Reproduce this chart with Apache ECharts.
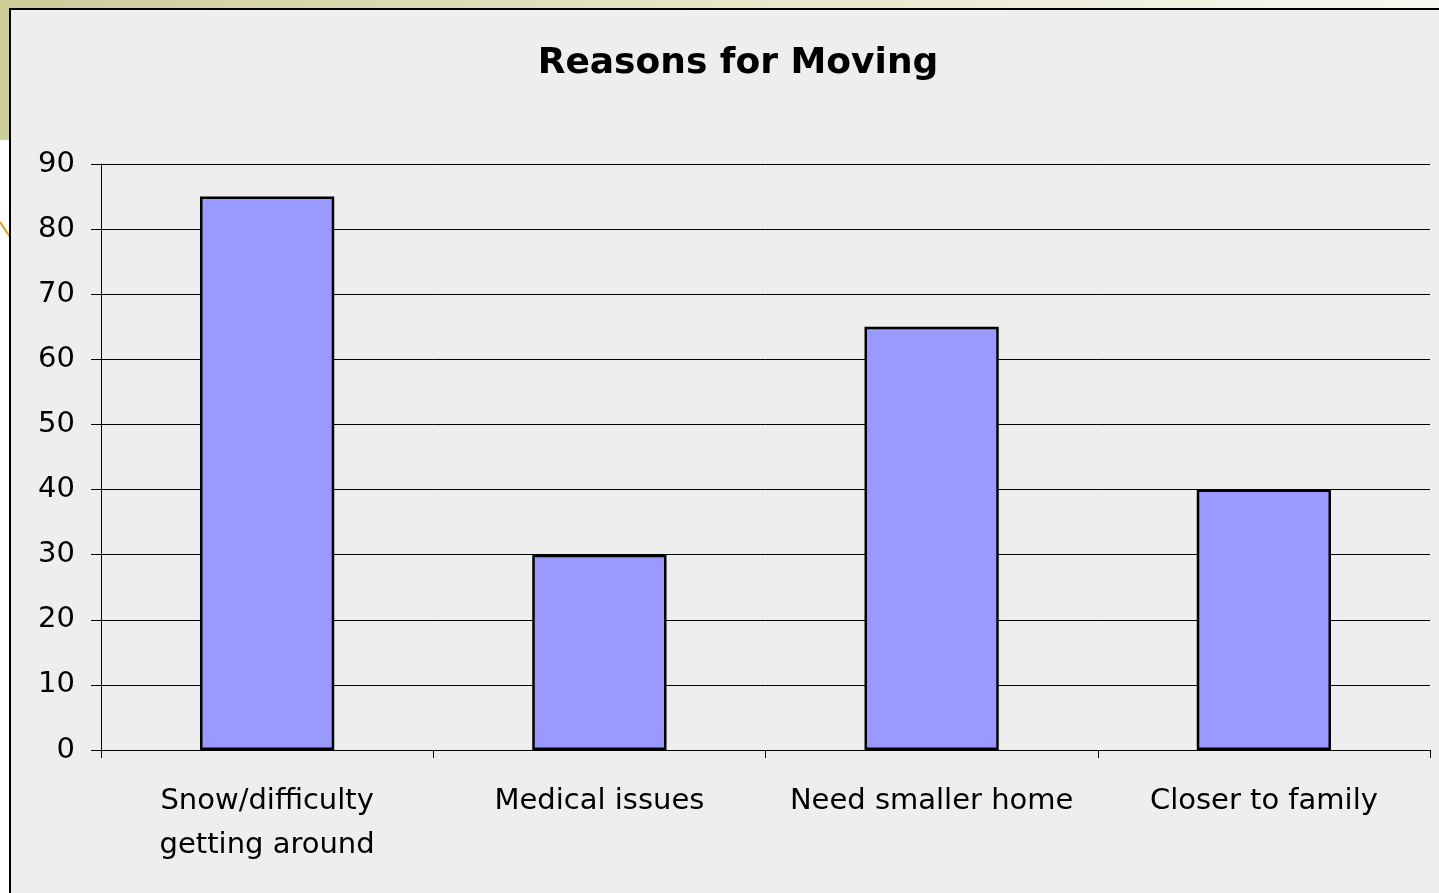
<!DOCTYPE html>
<html>
<head>
<meta charset="utf-8">
<script src="https://cdn.jsdelivr.net/npm/echarts@6/dist/echarts.min.js"></script>
<style>
  html, body { margin: 0; padding: 0; background: #fff; overflow: hidden; }
  #strip { position: absolute; left: 0; top: 0; width: 1439px; height: 8px;
    background: linear-gradient(to right, #cccc99, #e6e6c8 50%, #f8f8f0); }
  #side { position: absolute; left: 0; top: 0; width: 10px; height: 140px; background: #cccc99; }
  #panel { position: absolute; left: 9px; top: 8px; width: 1440px; height: 900px;
    background: #eeeeee; border-top: 2px solid #000; border-left: 2px solid #000; }
  #main { position: absolute; left: 0; top: 0; width: 1439px; height: 893px; }
  #deco { position: absolute; left: 0; top: 0; }
</style>
</head>
<body>
<div id="strip"></div>
<div id="side"></div>
<svg id="deco" width="12" height="260"><line x1="0" y1="222" x2="10" y2="237" stroke="#d4a017" stroke-width="2"/></svg>
<div id="panel"></div>
<div id="main"></div>
<script>
// 数据
var categories = ['Snow/difficulty\ngetting around', 'Medical issues', 'Need smaller home', 'Closer to family']
var values = [85, 30, 65, 40]
var yTicks = [0, 10, 20, 30, 40, 50, 60, 70, 80, 90]

var myChart = echarts.init(document.getElementById('main'))
var font = 'DejaVu Sans'
var option = {
  backgroundColor: 'transparent',
  animation: false,
  title: {
    text: 'Reasons for Moving',
    left: 733,
    top: 41,
    textAlign: 'center',
    textStyle: { fontFamily: font, fontSize: 36, fontWeight: 'bold', color: '#000' }
  },
  grid: { left: 101, right: 9, top: 164, bottom: 143 },
  xAxis: {
    type: 'category',
    data: categories,
    axisLine: { lineStyle: { color: '#000', width: 1 } },
    axisTick: { show: true, length: 8, alignWithLabel: false, lineStyle: { color: '#000' } },
    axisLabel: { fontFamily: font, fontSize: 29, color: '#000', lineHeight: 44, margin: 29, interval: 0 }
  },
  yAxis: {
    type: 'value',
    min: yTicks[0],
    max: yTicks[yTicks.length - 1],
    interval: 10,
    axisLine: { show: true, lineStyle: { color: '#000', width: 1 } },
    axisTick: { show: true, length: 10, lineStyle: { color: '#000' } },
    axisLabel: { fontFamily: font, fontSize: 29, color: '#000', margin: 26 },
    splitLine: { lineStyle: { color: '#000', width: 1 } }
  },
  series: [{
    type: 'bar',
    data: values,
    barWidth: '40.4%',
    itemStyle: { color: '#9999ff', borderColor: '#000', borderWidth: 2.5 }
  }]
}
myChart.setOption(option)
</script>
</body>
</html>
